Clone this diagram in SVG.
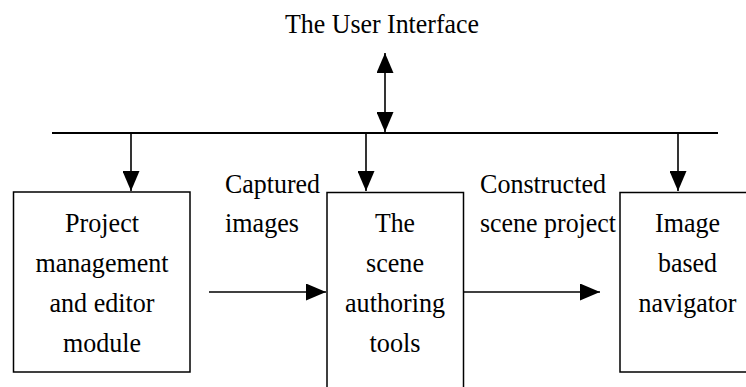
<svg xmlns="http://www.w3.org/2000/svg" width="746" height="387" viewBox="0 0 746 387">
<style>
text{font-family:'Liberation Serif','Times New Roman','DejaVu Serif',serif;font-size:28px;fill:#000}
.c{text-anchor:middle}
.box{fill:#fff;stroke:#000;stroke-width:1.5}
.ln{stroke:#000;stroke-width:1.6;fill:none}
</style>
<defs>
<marker id="ah" viewBox="0 0 20 17" refX="20" refY="8.5" markerWidth="20" markerHeight="17" markerUnits="userSpaceOnUse" orient="auto-start-reverse">
<path d="M0,0 L20,8.5 L0,17 Z" fill="#000"/>
</marker>
</defs>
<rect width="746" height="387" fill="#fff"/>
<g id="ui"><text class="c" x="382" y="33" textLength="194" lengthAdjust="spacingAndGlyphs">The User Interface</text></g>
<g id="connectors">
<line x1="52" y1="133" x2="718" y2="133" stroke="#000" stroke-width="2"/>
<line class="ln" x1="385" y1="53" x2="385" y2="132" marker-start="url(#ah)" marker-end="url(#ah)"/>
<line class="ln" x1="131" y1="133" x2="131" y2="191" marker-end="url(#ah)"/>
<line class="ln" x1="366" y1="133" x2="366" y2="191" marker-end="url(#ah)"/>
<line class="ln" x1="678" y1="133" x2="678" y2="191" marker-end="url(#ah)"/>
<line class="ln" x1="209" y1="292" x2="326" y2="292" marker-end="url(#ah)"/>
<line class="ln" x1="463" y1="292" x2="600" y2="292" marker-end="url(#ah)"/>
</g>
<g id="project">
<rect class="box" x="13.5" y="192" width="176.5" height="180"/>
<text class="c" x="102" y="232" textLength="74" lengthAdjust="spacingAndGlyphs">Project</text>
<text class="c" x="102" y="272" textLength="133" lengthAdjust="spacingAndGlyphs">management</text>
<text class="c" x="102" y="312" textLength="105" lengthAdjust="spacingAndGlyphs">and editor</text>
<text class="c" x="102" y="352" textLength="78" lengthAdjust="spacingAndGlyphs">module</text>
</g>
<g id="authoring">
<rect class="box" x="327" y="192.5" width="136.5" height="200"/>
<text class="c" x="395" y="232" textLength="40" lengthAdjust="spacingAndGlyphs">The</text>
<text class="c" x="395" y="272" textLength="58" lengthAdjust="spacingAndGlyphs">scene</text>
<text class="c" x="395" y="312" textLength="100" lengthAdjust="spacingAndGlyphs">authoring</text>
<text class="c" x="395" y="352" textLength="51" lengthAdjust="spacingAndGlyphs">tools</text>
</g>
<g id="navigator">
<rect class="box" x="620" y="192.5" width="135" height="179.5"/>
<text class="c" x="687.5" y="232" textLength="65" lengthAdjust="spacingAndGlyphs">Image</text>
<text class="c" x="687.5" y="272" textLength="59" lengthAdjust="spacingAndGlyphs">based</text>
<text class="c" x="687.5" y="312" textLength="98" lengthAdjust="spacingAndGlyphs">navigator</text>
</g>
<g id="labels">
<text x="225" y="193" textLength="95" lengthAdjust="spacingAndGlyphs">Captured</text>
<text x="225" y="232" textLength="74" lengthAdjust="spacingAndGlyphs">images</text>
<text x="480" y="193" textLength="126" lengthAdjust="spacingAndGlyphs">Constructed</text>
<text x="480" y="232" textLength="136" lengthAdjust="spacingAndGlyphs">scene project</text>
</g>
</svg>
